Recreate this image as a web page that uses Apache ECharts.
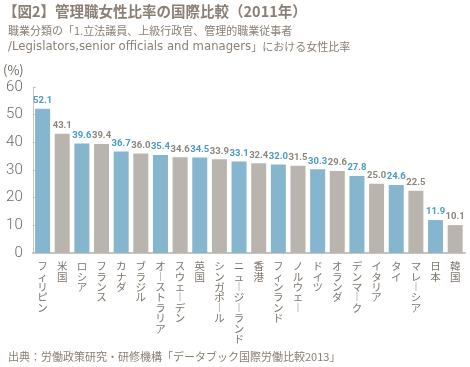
<!DOCTYPE html>
<html><head><meta charset="utf-8">
<script src="https://cdn.jsdelivr.net/npm/echarts@6/dist/echarts.min.js"></script>
<style>html,body{margin:0;padding:0;background:#fff}#c{width:470px;height:367px}</style>
</head><body><div id="c"></div>
<script>
const categories = ['フィリピン','米国','ロシア','フランス','カナダ','ブラジル','オーストラリア','スウェーデン','英国','シンガポール','ニュージーランド','香港','フィンランド','ノルウェー','ドイツ','オランダ','デンマーク','イタリア','タイ','マレーシア','日本','韓国'];
const values = [52.1,43.1,39.6,39.4,36.7,36.0,35.4,34.6,34.5,33.9,33.1,32.4,32.0,31.5,30.3,29.6,27.8,25.0,24.6,22.5,11.9,10.1];
const yTicks = [0,10,20,30,40,50,60];
const titleText = '【図2】管理職女性比率の国際比較（2011年）';
const subLine1 = '職業分類の「1.立法議員、上級行政官、管理的職業従事者';
const subLine2a = '/Legislators,senior officials and managers';
const subLine2b = '」における女性比率';
const sourceText = '出典：労働政策研究・研修機構「データブック国際労働比較2013」';

const BLUE = '#85b6cd', GRAY = '#b9b4ae', BLUE_T = '#4a9bc3', GRAY_T = '#8c857d', TXT = '#8a7f74';
const chart = echarts.init(document.getElementById('c'));
const vert = s => s.split('').map(ch => ch === 'ー' ? '︱' : ch).join('\n');
chart.setOption({
  animation: false,
  textStyle: {fontFamily: '"Noto Sans CJK JP", sans-serif'},
  title: [
    {text: titleText, left: -2, top: -1, textStyle: {fontSize: 14.5, fontWeight: 'bold', color: TXT}},
    {text: '{j|' + subLine1 + '}\n{l|' + subLine2a + '}{j|' + subLine2b + '}', left: 3, top: 18,
      textStyle: {fontSize: 11, fontWeight: 'normal', color: TXT, lineHeight: 16,
        rich: {j: {fontSize: 11, color: TXT, lineHeight: 16, fontFamily: '"Noto Sans CJK JP", sans-serif'},
               l: {fontSize: 11.7, color: TXT, lineHeight: 16, fontFamily: '"DejaVu Sans", sans-serif'}}}},
    {text: sourceText, left: 3, top: 346, textStyle: {fontSize: 11, fontWeight: 'normal', color: TXT}}
  ],
  grid: {left: 31, right: 5, top: 87, bottom: 114},
  xAxis: {
    type: 'category', data: categories,
    axisLine: {lineStyle: {color: '#c8c5c1', width: 2}},
    axisTick: {show: false},
    axisLabel: {interval: 0, formatter: v => vert(v), fontSize: 10.5, lineHeight: 10.4, color: '#7d756d', margin: 8, verticalAlign: 'top'}
  },
  yAxis: {
    type: 'value', min: yTicks[0], max: yTicks[yTicks.length-1], interval: 10,
    name: '(%)', nameLocation: 'end', nameGap: 10,
    nameTextStyle: {color: '#6f6a65', fontSize: 13, align: 'right', padding: [0, 9, 0, 0]},
    axisLine: {show: true, lineStyle: {color: '#c8c5c1'}},
    axisTick: {show: true, inside: true, length: 3, lineStyle: {color: '#c8c5c1'}},
    splitLine: {show: false},
    axisLabel: {fontSize: 15, color: '#6f6a65', margin: 10, fontFamily: 'Roboto, sans-serif', fontWeight: 300}
  },
  series: [{
    type: 'bar', barWidth: 15,
    data: values.map((v, i) => ({value: v, itemStyle: {color: i % 2 === 0 ? BLUE : GRAY},
      label: {color: i % 2 === 0 ? BLUE_T : GRAY_T}})),
    label: {show: true, position: 'top', distance: 3, formatter: p => p.value.toFixed(1),
      fontSize: 9.5, fontWeight: 'bold', fontFamily: 'Roboto, Arial, sans-serif'}
  }]
});
</script></body></html>
